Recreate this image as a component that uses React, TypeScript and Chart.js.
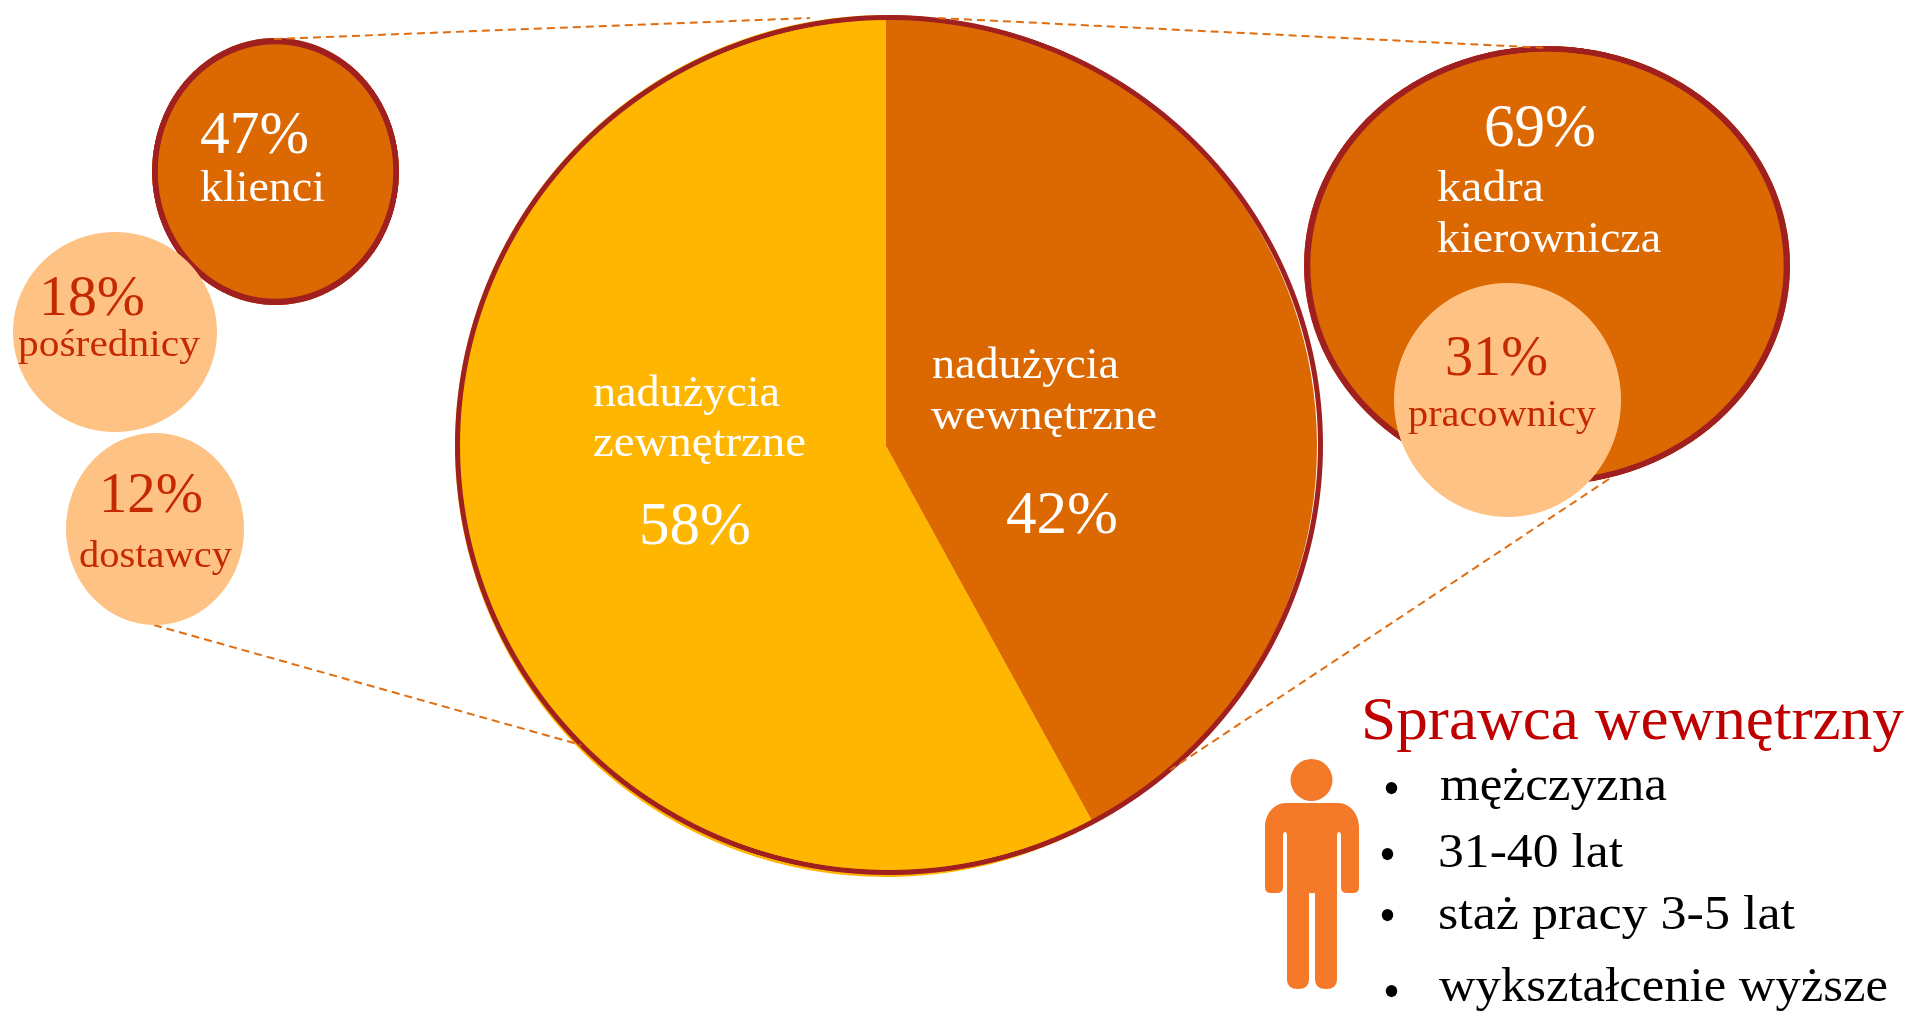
import React, { useEffect, useLayoutEffect, useRef } from "react";
import { Chart, registerables } from "chart.js";

Chart.register(...registerables);

// ---- data ----
const mainLabels = ["nadużycia wewnętrzne", "nadużycia zewnętrzne"];
const mainValues = [42, 58];
const externalLabels = ["klienci", "pośrednicy", "dostawcy"];
const externalValues = [47, 18, 12];
const internalLabels = ["kadra kierownicza", "pracownicy"];
const internalValues = [69, 31];
const profileTitle = "Sprawca wewnętrzny";
const profileItems = ["mężczyzna", "31-40 lat", "staż pracy 3-5 lat", "wykształcenie wyższe"];

const connectorTopLeftX = [274, 810];
const connectorTopLeftY = [39, 18];
const connectorTopRightX = [938, 1548];
const connectorTopRightY = [18, 48];
const connectorBottomLeftX = [154, 581];
const connectorBottomLeftY = [625, 745];
const connectorBottomRightX = [1609, 1170];
const connectorBottomRightY = [479, 770];

// ---- styles ----
const YELLOW = "#FFB600";
const ORANGE = "#DB6800";
const LIGHT = "#FFC285";
const RING = "#A01F1F";
const DASH = "#DF6E12";
const RED = "#C42900";
const SERIF = '"Liberation Serif", serif';

function toPoints(xs: number[], ys: number[]) {
  return xs.map((x, i) => ({ x, y: ys[i] }));
}

type EllipseProps = {
  cx: number; cy: number; rx: number; ry: number;
  values: number[]; colors: string[]; ring?: number;
};

function EllipseChart({ cx, cy, rx, ry, values, colors, ring }: EllipseProps) {
  const ref = useRef<HTMLCanvasElement>(null);
  const size = 2 * Math.ceil(Math.max(rx, ry));
  useEffect(() => {
    const cutout = ring ? size / 2 - (ring * (size / 2)) / ((rx + ry) / 2) : 0;
    const chart = new Chart(ref.current as HTMLCanvasElement, {
      type: "doughnut",
      data: {
        labels: values.map((_, i) => String(i)),
        datasets: [{ data: values, backgroundColor: colors, borderWidth: 0, hoverOffset: 0 }],
      },
      options: {
        responsive: false,
        animation: false,
        devicePixelRatio: 2,
        cutout,
        layout: { padding: 0 },
        plugins: { legend: { display: false }, title: { display: false }, tooltip: { enabled: false } },
      },
    });
    return () => chart.destroy();
  }, []);
  return (
    <div style={{ position: "absolute", left: cx - rx, top: cy - ry, width: 2 * rx, height: 2 * ry }}>
      <canvas
        ref={ref}
        width={size}
        height={size}
        style={{
          display: "block",
          transformOrigin: "0 0",
          transform: `scale(${(2 * rx) / size}, ${(2 * ry) / size})`,
        }}
      />
    </div>
  );
}

function Connectors() {
  const ref = useRef<HTMLCanvasElement>(null);
  useEffect(() => {
    const line = (xs: number[], ys: number[]) => ({
      data: toPoints(xs, ys),
      showLine: true,
      borderColor: DASH,
      borderWidth: 2,
      borderDash: [8, 5],
      pointRadius: 0,
      fill: false,
    });
    const chart = new Chart(ref.current as HTMLCanvasElement, {
      type: "scatter",
      data: {
        datasets: [
          line(connectorTopLeftX, connectorTopLeftY),
          line(connectorTopRightX, connectorTopRightY),
          line(connectorBottomLeftX, connectorBottomLeftY),
          line(connectorBottomRightX, connectorBottomRightY),
        ],
      },
      options: {
        responsive: false,
        animation: false,
        layout: { padding: 0 },
        scales: {
          x: { type: "linear", display: false, min: 0, max: 1911 },
          y: { type: "linear", display: false, min: 0, max: 1011, reverse: true },
        },
        plugins: { legend: { display: false }, title: { display: false }, tooltip: { enabled: false } },
      },
    });
    return () => chart.destroy();
  }, []);
  return <canvas ref={ref} width={1911} height={1011} style={{ position: "absolute", left: 0, top: 0 }} />;
}

type LabelProps = { text: string; x: number; base: number; size: number; width: number; color: string };

function Label({ text, x, base, size, width, color }: LabelProps) {
  const ref = useRef<HTMLSpanElement>(null);
  useLayoutEffect(() => {
    const el = ref.current as HTMLSpanElement;
    const natural = el.getBoundingClientRect().width;
    el.style.transform = `scaleX(${width / natural})`;
  }, []);
  return (
    <span
      ref={ref}
      style={{
        position: "absolute",
        left: x,
        top: base - 0.8375 * size,
        fontFamily: SERIF,
        fontSize: size,
        lineHeight: 1,
        color,
        whiteSpace: "nowrap",
        transformOrigin: "0 50%",
      }}
    >
      {text}
    </span>
  );
}

function Person() {
  return (
    <svg width={110} height={240} viewBox="0 0 110 240" style={{ position: "absolute", left: 1258, top: 755 }}>
      <ellipse cx={53.5} cy={25} rx={21} ry={21} fill="#F47A2A" />
      <path
        fill="#F47A2A"
        d="M28 48 H80 C92 48 101 59 101 72 V132 Q101 138 95 138 H89 Q83 138 83 132 V82 Q83 77 81 77 Q79 77 79 82 V224 Q79 234 68 234 Q57 234 57 224 V138 H51 V224 Q51 234 40 234 Q29 234 29 224 V82 Q29 77 27 77 Q25 77 25 82 V132 Q25 138 19 138 H13 Q7 138 7 132 V72 C7 59 16 48 28 48 Z"
      />
    </svg>
  );
}

export default function App() {
  useEffect(() => {
    document.body.style.margin = "0";
  }, []);
  const [clients, brokers, suppliers] = externalValues;
  const [managers, staff] = internalValues;
  const [internal, external] = mainValues;
  const w = mainLabels[0].split(" ");
  const z = mainLabels[1].split(" ");
  const k = internalLabels[0].split(" ");
  const bullets: [number, number][] = [[1383, 805], [1379, 871], [1379, 932], [1383, 1008]];
  const items: [number, number, number][] = [
    [1440, 800, 227],
    [1438, 867, 185],
    [1438, 929, 357],
    [1439, 1001, 449],
  ];
  return (
    <div style={{ position: "fixed", left: 0, top: 0, width: 1911, height: 1011, overflow: "hidden", background: "#fff" }}>
      <EllipseChart cx={886} cy={446} rx={431} ry={431} values={mainValues} colors={[ORANGE, YELLOW]} />
      <EllipseChart cx={889} cy={445} rx={434} ry={430} values={[100]} colors={[RING]} ring={5} />

      <EllipseChart cx={275.5} cy={171.5} rx={123.5} ry={133.5} values={[clients]} colors={[ORANGE]} />
      <EllipseChart cx={275.5} cy={171.5} rx={123.5} ry={133.5} values={[clients]} colors={[RING]} ring={6} />

      <EllipseChart cx={1546.5} cy={265.5} rx={243} ry={219.5} values={[managers]} colors={[ORANGE]} />
      <EllipseChart cx={1546.5} cy={265.5} rx={243} ry={219.5} values={[managers]} colors={[RING]} ring={6} />

      <Connectors />

      <EllipseChart cx={115} cy={331.5} rx={102} ry={100} values={[brokers]} colors={[LIGHT]} />
      <EllipseChart cx={155} cy={529} rx={89} ry={96} values={[suppliers]} colors={[LIGHT]} />
      <EllipseChart cx={1507} cy={400} rx={113.5} ry={117} values={[staff]} colors={[LIGHT]} />

      <Label text={`${clients}%`} x={200} base={153} size={62} width={109} color="#fff" />
      <Label text={externalLabels[0]} x={200} base={202} size={45} width={125} color="#fff" />
      <Label text={`${brokers}%`} x={39} base={316} size={58} width={106} color={RED} />
      <Label text={externalLabels[1]} x={18} base={356} size={38} width={182} color={RED} />
      <Label text={`${suppliers}%`} x={99} base={513} size={58} width={104} color={RED} />
      <Label text={externalLabels[2]} x={79} base={567} size={38} width={153} color={RED} />

      <Label text={`${managers}%`} x={1484} base={146} size={62} width={112} color="#fff" />
      <Label text={k[0]} x={1437} base={202} size={45} width={107} color="#fff" />
      <Label text={k[1]} x={1437} base={253} size={45} width={224} color="#fff" />
      <Label text={`${staff}%`} x={1445} base={376} size={58} width={103} color={RED} />
      <Label text={internalLabels[1]} x={1408} base={426} size={38} width={188} color={RED} />

      <Label text={z[0]} x={593} base={407} size={45} width={187} color="#fff" />
      <Label text={z[1]} x={593} base={457} size={45} width={213} color="#fff" />
      <Label text={`${external}%`} x={639} base={544} size={62} width={112} color="#fff" />
      <Label text={w[0]} x={932} base={379} size={45} width={187} color="#fff" />
      <Label text={w[1]} x={931} base={430} size={45} width={226} color="#fff" />
      <Label text={`${internal}%`} x={1006} base={533} size={62} width={112} color="#fff" />

      <Label text={profileTitle} x={1361} base={739} size={61} width={543} color="#C00000" />
      {profileItems.map((t, i) => (
        <React.Fragment key={t}>
          <Label text="•" x={bullets[i][0]} base={bullets[i][1]} size={50} width={17} color="#000" />
          <Label text={t} x={items[i][0]} base={items[i][1]} size={49} width={items[i][2]} color="#000" />
        </React.Fragment>
      ))}
      <Person />
    </div>
  );
}
